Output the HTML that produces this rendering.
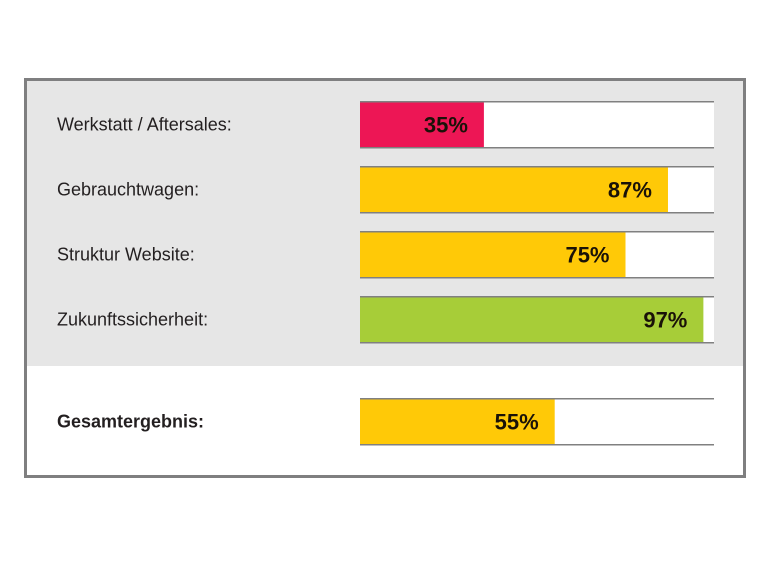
<!DOCTYPE html>
<html><head><meta charset="utf-8"><style>
html,body{margin:0;padding:0;background:#fff;width:768px;height:576px;overflow:hidden}
svg text{font-family:"Liberation Sans",Arial,sans-serif}
</style></head><body>
<svg id="chart" width="768" height="576" xmlns="http://www.w3.org/2000/svg">
<rect x="25.5" y="79.5" width="719" height="397" fill="#fff" stroke="#7f7f80" stroke-width="3"/>
<rect x="27" y="81" width="716" height="285" fill="#e6e6e6"/>
<g id="bars"></g>
</svg>
<script>
const categories = ["Werkstatt / Aftersales:", "Gebrauchtwagen:", "Struktur Website:", "Zukunftssicherheit:", "Gesamtergebnis:"];
const values = [35, 87, 75, 97, 55];
const colors = ["#ed1655", "#ffc907", "#ffc907", "#a7cd38", "#ffc907"];
const labels = ["35%", "87%", "75%", "97%", "55%"];
const x0 = 360, barW = 354, barH = 47;
const rowTops = [101, 166, 231, 296, 398];
function xScale(v){ return x0 + barW * v / 100; }
const g = document.getElementById('bars');
const NS = "http://www.w3.org/2000/svg";
function mk(tag, attrs){ const e = document.createElementNS(NS, tag); for (const k in attrs) e.setAttribute(k, attrs[k]); return e; }
categories.forEach((c, i) => {
  const y = rowTops[i];
  const total = i === categories.length - 1;
  const bg = mk('rect', {x: x0, y: y, width: barW, height: barH, fill: '#fff'});
  
  
  g.appendChild(bg);
  const bar = mk('rect', {x: x0, y: y, width: xScale(values[i]) - x0, height: barH, fill: colors[i]});
  
  
  g.appendChild(bar);
  [y + 0.75, y + barH - 0.25].forEach(ly => {
    const l = mk('line', {x1: x0, x2: x0 + barW, y1: ly, y2: ly, stroke: '#808080', 'stroke-width': 1.5});
    
    
    g.appendChild(l);
  });
  const t = mk('text', {x: xScale(values[i]) - 16, y: y + barH / 2 + 8, 'text-anchor': 'end', 'font-size': 22, 'font-weight': 'bold', fill: '#1a1208'});
  t.textContent = labels[i];
  
  
  g.appendChild(t);
  const cl = mk('text', {x: 57, y: y + barH / 2 + 6, 'font-size': total ? 18 : 18, 'font-weight': total ? 'bold' : 'normal', fill: '#231f20'});
  cl.textContent = c;
  
  
  g.appendChild(cl);
});
</script>
</body></html>
